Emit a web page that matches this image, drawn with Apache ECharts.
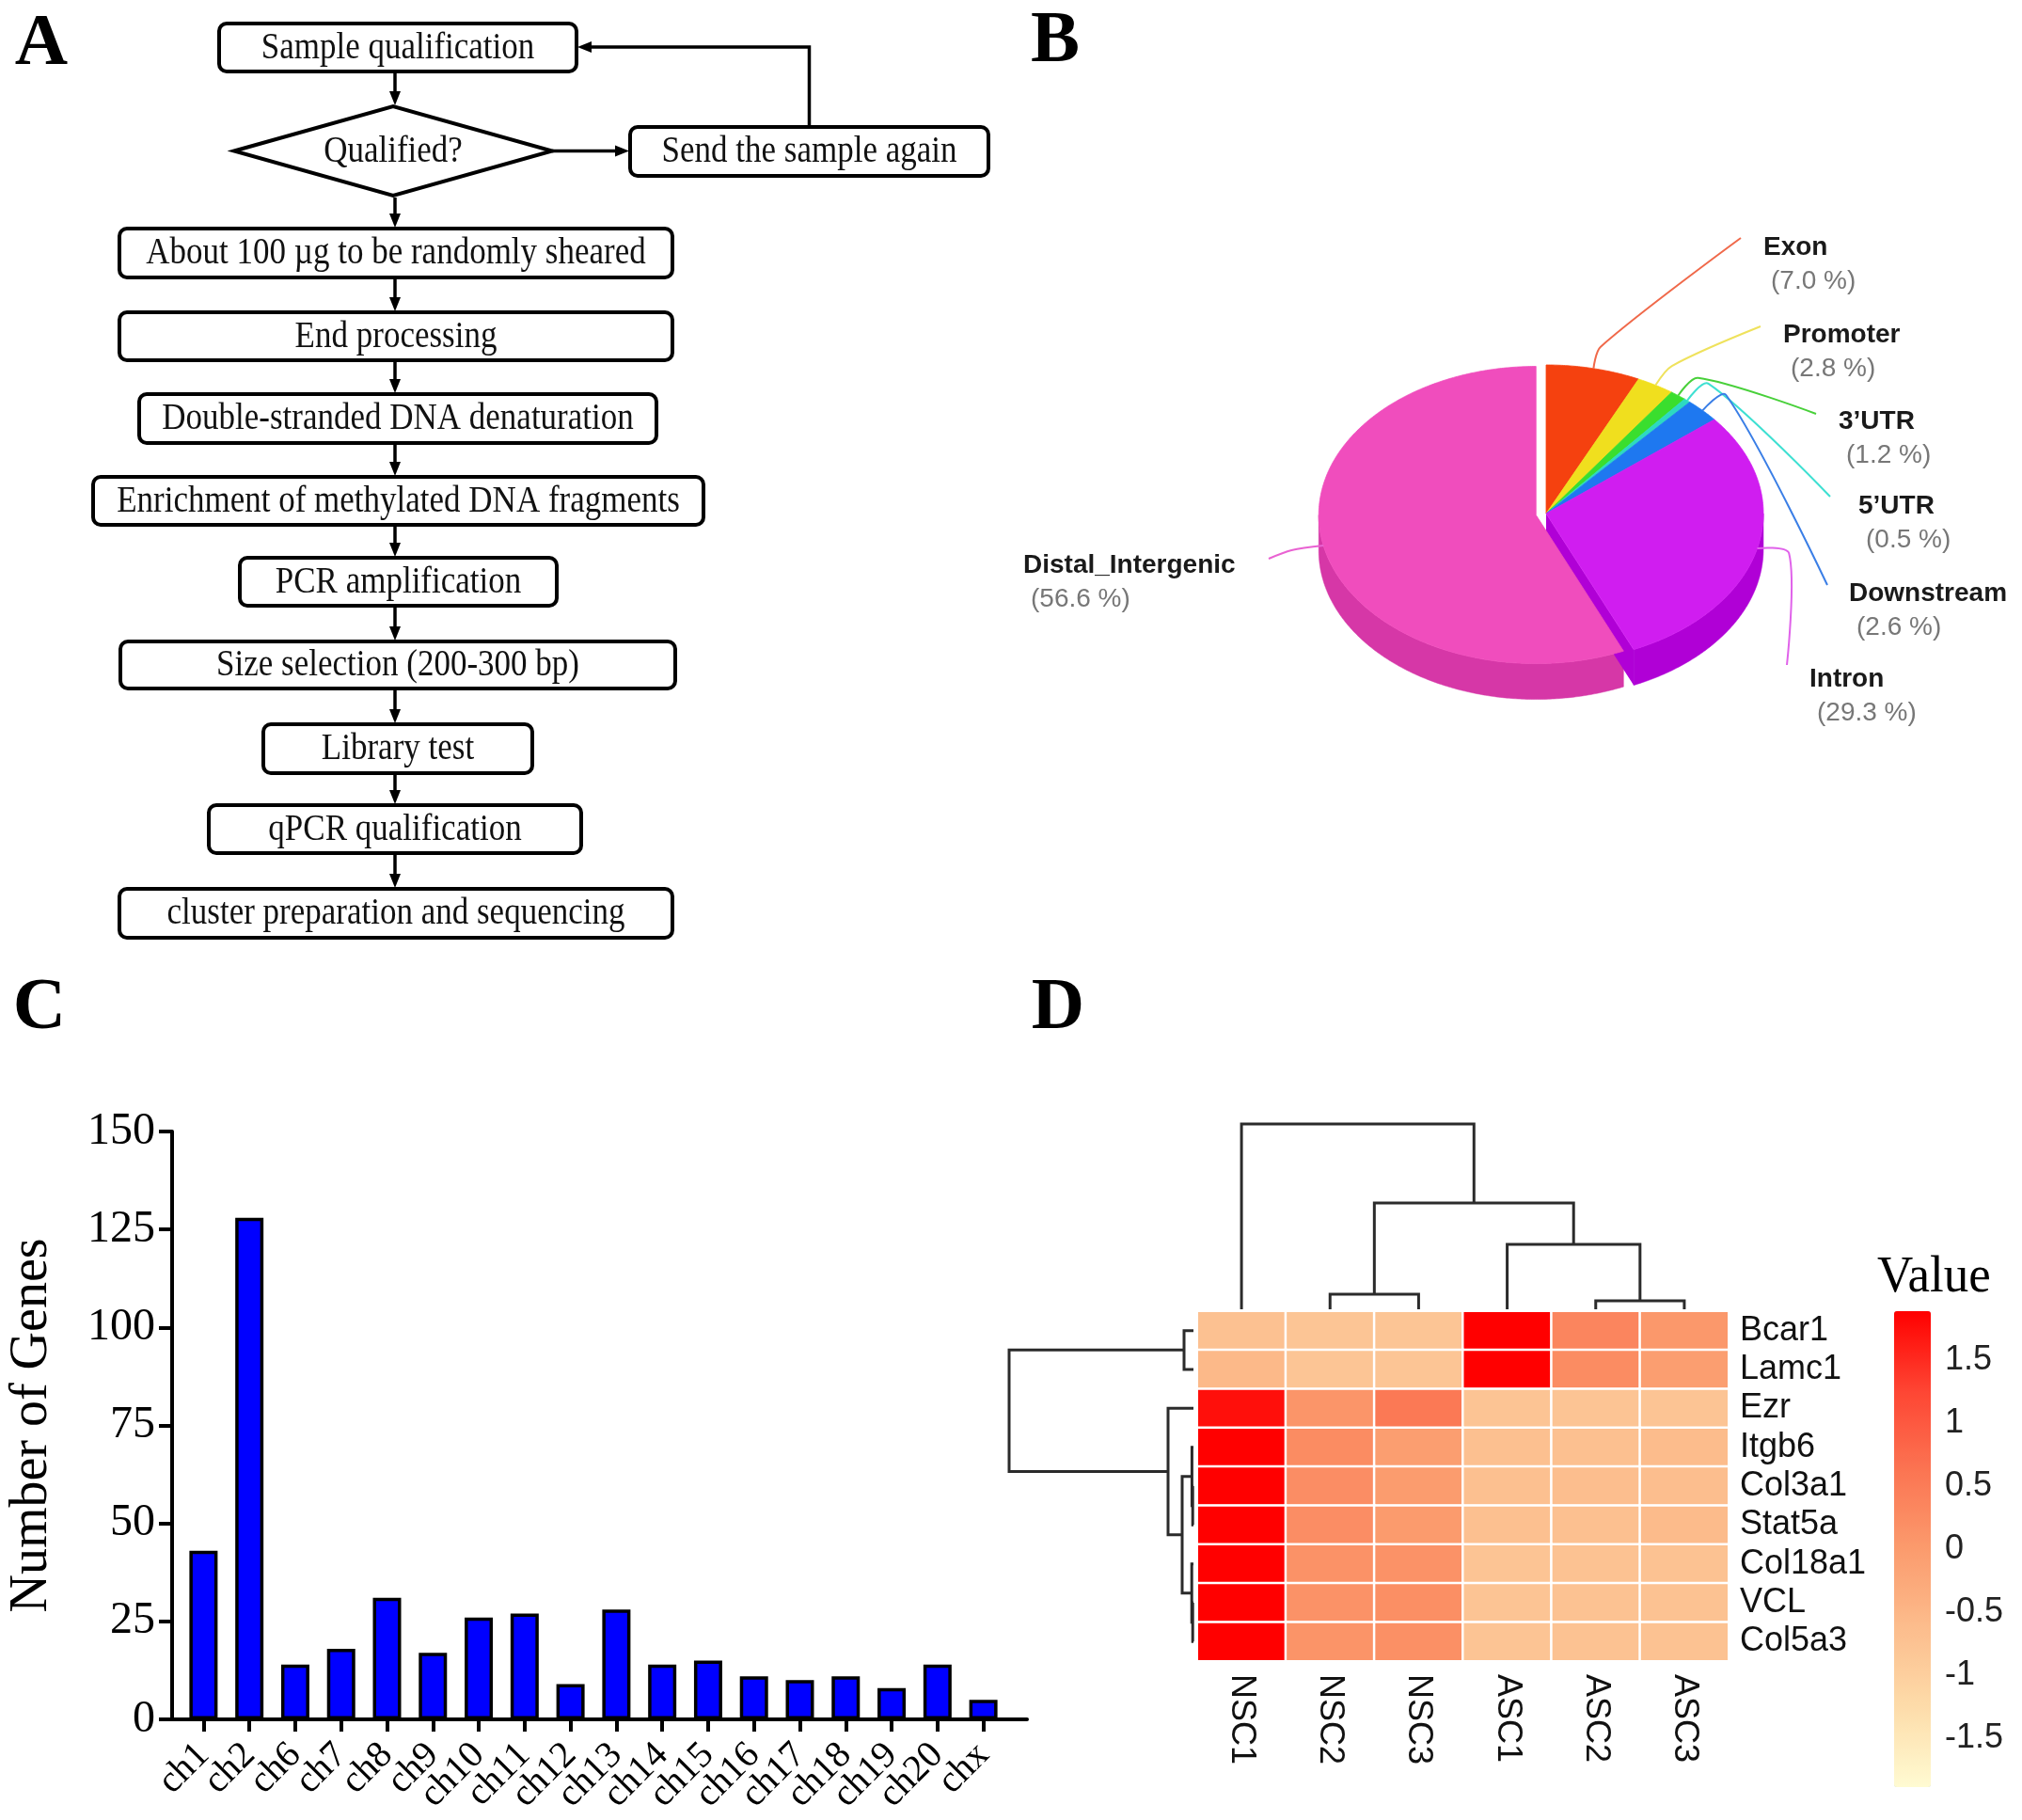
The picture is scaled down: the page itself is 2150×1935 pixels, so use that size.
<!DOCTYPE html>
<html><head><meta charset="utf-8">
<script src="https://cdn.jsdelivr.net/npm/echarts@6/dist/echarts.min.js"></script>
<style>html,body{margin:0;padding:0;background:#fff}#c{width:2150px;height:1935px}</style>
</head><body><div id="c"></div>
<script>
// ---------- Panel A: flowchart ----------
const flowSteps = ['Sample qualification','Qualified?','About 100 µg to be randomly sheared','End processing',
  'Double-stranded DNA denaturation','Enrichment of methylated DNA fragments','PCR amplification',
  'Size selection (200-300 bp)','Library test','qPCR qualification','cluster preparation and sequencing'];
const flowRetry = 'Send the sample again';
// ---------- Panel B: peak annotation ----------
const pieNames = ['Exon','Promoter','3’UTR','5’UTR','Downstream','Intron','Distal_Intergenic'];
const piePercents = [7.0, 2.8, 1.2, 0.5, 2.6, 29.3, 56.6];
// ---------- Panel C: genes per chromosome ----------
const chromosomes = ['ch1','ch2','ch6','ch7','ch8','ch9','ch10','ch11','ch12','ch13','ch14','ch15','ch16','ch17','ch18','ch19','ch20','chx'];
const geneCounts = [43, 128, 14, 18, 31, 17, 26, 27, 9, 28, 14, 15, 11, 10, 11, 8, 14, 5];
// ---------- Panel D: heatmap ----------
const samples = ['NSC1','NSC2','NSC3','ASC1','ASC2','ASC3'];
const genes = ['Bcar1','Lamc1','Ezr','Itgb6','Col3a1','Stat5a','Col18a1','VCL','Col5a3'];
const zBcar1   = [-0.72,-0.80,-0.80, 1.89, 0.35, 0.05];
const zLamc1   = [-0.55,-0.80,-0.80, 1.89, 0.25,-0.05];
const zEzr     = [ 1.75, 0.10, 0.55,-0.78,-0.78,-0.78];
const zItgb6   = [ 1.89, 0.25,-0.05,-0.70,-0.70,-0.62];
const zCol3a1  = [ 1.89, 0.22,-0.02,-0.70,-0.66,-0.66];
const zStat5a  = [ 1.89, 0.22, 0.00,-0.70,-0.70,-0.60];
const zCol18a1 = [ 1.89, 0.15, 0.15,-0.78,-0.74,-0.74];
const zVCL     = [ 1.89, 0.15, 0.20,-0.78,-0.74,-0.74];
const zCol5a3  = [ 1.89, 0.12, 0.18,-0.78,-0.74,-0.74];
const heatRows = [zBcar1,zLamc1,zEzr,zItgb6,zCol3a1,zStat5a,zCol18a1,zVCL,zCol5a3];
const colorbarTicks = [-1.5,-1,-0.5,0,0.5,1,1.5];
// hclust-style merges: negative = leaf (1-based, display order), positive = earlier merge
const colMerges = [[-2,-3,16],[-5,-6,9],[-4,2,69],[1,3,113],[-1,4,197]];
const rowMerges = [[-5,-6,0.8],[-8,-9,0.8],[-4,1,1.6],[-7,2,1.8],[-1,-2,10],[3,4,12],[-3,6,27],[5,7,196]];

// ---------- layout / style (not data) ----------
const flowBoxes = [[233,25,380,51],[249,113,338,95],[127,243,588,52],[127,332,588,51],[148,419,550,52],
  [99,507,649,51],[255,593,337,51],[128,682,590,50],[280,770,286,52],[222,856,396,51],[127,945,588,52]];
const retryBox = [670,135,381,52];
const FLOW_X = 420;
const PIE = {cx:1644, cy:546, rx:231, ry:158, depth:38};
const pieStyle = {
  colors:['#f5410f','#f0df1e','#3ade2e','#2dd9c2','#1e78f0','#d01df0','#f04dbd'],
  sides:['#c9320a','#c6b816','#2bb523','#22b09d','#1660c5','#b000d6','#d637a7'],
  lines:['#f0694a','#efe25c','#48d03a','#3ee0d2','#3a7ee6','#e062ea','#e962d2'],
  explode:[0,0,0,0,0,0,11]
};
const pieLabelLayout = [[1875,263,1851,253],[1896,356,1872,347],[1955,448,1931,440],[1976,538,1946,528],
  [1966,631,1943,622],[1924,722,1900,707],[1088,601,1349,594]];

// ---------- helpers ----------
const G = [];
const serif = 'Liberation Serif';
function txt(x,y,text,font,opt,sy){ G.push(Object.assign({type:'text',x:x,y:y,scaleY:sy||1,silent:true,style:Object.assign({text:text,font:font,fill:'#000',align:'center',verticalAlign:'middle'},opt||{})})); }
function arrowHead(tx,ty,dir){
  const L=15,W=6; let pts;
  if(dir==='down') pts=[[tx-W,ty-L],[tx+W,ty-L],[tx,ty]];
  else if(dir==='right') pts=[[tx-L,ty-W],[tx-L,ty+W],[tx,ty]];
  else pts=[[tx+L,ty-W],[tx+L,ty+W],[tx,ty]];
  G.push({type:'polygon',silent:true,shape:{points:pts},style:{fill:'#000'}});
}
function line(pts){ G.push({type:'polyline',silent:true,shape:{points:pts},style:{stroke:'#000',lineWidth:3.5,fill:null}}); }

// flowchart
flowSteps.forEach((s,i)=>{
  const b=flowBoxes[i];
  if(i===1){
    const cx=b[0]+b[2]/2, cy=b[1]+b[3]/2;
    G.push({type:'polygon',silent:true,shape:{points:[[b[0],cy],[cx,b[1]],[b[0]+b[2],cy],[cx,b[1]+b[3]]]},style:{fill:'#fff',stroke:'#000',lineWidth:4}});
  } else {
    G.push({type:'rect',silent:true,shape:{x:b[0],y:b[1],width:b[2],height:b[3],r:8},style:{fill:'#fff',stroke:'#000',lineWidth:4}});
  }
  txt(b[0]+b[2]/2, b[1]+b[3]/2+1, s, '35px '+serif, {fill:'#111'}, 1.14);
  if(i>0){
    const p=flowBoxes[i-1];
    line([[FLOW_X,p[1]+p[3]+2],[FLOW_X,b[1]-12]]);
    arrowHead(FLOW_X,b[1]-1,'down');
  }
});
G.push({type:'rect',silent:true,shape:{x:retryBox[0],y:retryBox[1],width:retryBox[2],height:retryBox[3],r:8},style:{fill:'#fff',stroke:'#000',lineWidth:4}});
txt(retryBox[0]+retryBox[2]/2, retryBox[1]+retryBox[3]/2+1, flowRetry, '35px '+serif, {fill:'#111'}, 1.14);
(function(){
  const d=flowBoxes[1], cy=d[1]+d[3]/2;
  line([[d[0]+d[2],cy],[retryBox[0]-12,cy]]); arrowHead(retryBox[0]-1,cy,'right');
  const s=flowBoxes[0], rx=retryBox[0]+retryBox[2]/2;
  line([[rx,retryBox[1]],[rx,50],[s[0]+s[2]+12,50]]); arrowHead(s[0]+s[2]+1,50,'left');
})();

// panel letters
txt(44,48,'A','bold 78px '+serif);
txt(1122,45,'B','bold 78px '+serif);
txt(42,1073,'C','bold 78px '+serif);
txt(1125,1073,'D','bold 78px '+serif);
// colorbar title
txt(1996,1358,'Value','53px '+serif,{align:'left'},1.05);

// dendrogram layout from merges
function treeLinks(merges){
  const pos=[], ht=[];
  const get=c=>c<0?[-c-1,0]:[pos[c-1],ht[c-1]];
  return merges.map((m,k)=>{const a=get(m[0]),b=get(m[1]);pos[k]=(a[0]+b[0])/2;ht[k]=m[2];return [a[0],b[0],m[2],a[1],b[1]];});
}
function dendroRender(orient){
  return function(params,api){
    const x1=api.value(0),x2=api.value(1),h=api.value(2),h1=api.value(3),h2=api.value(4);
    const raw = orient==='top' ? [[x1,h1],[x1,h],[x2,h],[x2,h2]] : [[h1,x1],[h,x1],[h,x2],[h2,x2]];
    return {type:'polyline',shape:{points:raw.map(p=>api.coord(p))},style:{stroke:'#2b2b2b',lineWidth:3,fill:null}};
  };
}

// pie (tilted, elliptical) via custom series
function pieRender(params, api){
  const i=params.dataIndex;
  const total=piePercents.reduce((s,v)=>s+v,0);
  let acc=0; for(let k=0;k<i;k++) acc+=piePercents[k];
  const a0=acc/total*2*Math.PI, a1=(acc+api.value(0))/total*2*Math.PI, mid=(a0+a1)/2;
  const ex=pieStyle.explode[i];
  const ox=ex*Math.sin(mid), oy=-ex*Math.cos(mid)*PIE.ry/PIE.rx;
  const P=(a,s,d)=>[PIE.cx+ox+s*PIE.rx*Math.sin(a), PIE.cy+oy-s*PIE.ry*Math.cos(a)+(d||0)];
  const arc=(f,t,d)=>{const n=Math.max(2,Math.ceil(Math.abs(t-f)/0.01));const pts=[];for(let j=0;j<=n;j++)pts.push(P(f+(t-f)*j/n,1,d));return pts;};
  const ch=[];
  const f0=Math.max(a0,Math.PI/2), f1=Math.min(a1,Math.PI*1.5);
  if(f1>f0) ch.push({type:'polygon',z2:1,shape:{points:arc(f0,f1,0).concat(arc(f1,f0,PIE.depth))},style:{fill:pieStyle.sides[i],stroke:pieStyle.sides[i],lineWidth:0.5}});
  const nextEx = pieStyle.explode[(i+1)%pieStyle.explode.length];
  if(Math.sin(a1)>0.05 && (ex>0||nextEx>0)){
    const c=P(0,0), e=P(a1,1);
    ch.push({type:'polygon',z2:2,shape:{points:[c,e,[e[0],e[1]+PIE.depth],[c[0],c[1]+PIE.depth]]},style:{fill:pieStyle.sides[i]}});
  }
  ch.push({type:'polygon',z2:5,shape:{points:[P(0,0)].concat(arc(a0,a1,0))},style:{fill:pieStyle.colors[i],stroke:pieStyle.colors[i],lineWidth:0.8}});
  const L=pieLabelLayout[i];
  ch.push({type:'polyline',z2:6,shape:{points:[P(mid,1),P(mid,1.15),[L[2],L[3]]],smooth:0.3},style:{stroke:pieStyle.lines[i],lineWidth:2,fill:null}});
  ch.push({type:'text',z2:7,style:{text:pieNames[i],x:L[0],y:L[1],font:'bold 28px "Liberation Sans"',fill:'#1a1a1a',align:'left',verticalAlign:'middle'}});
  ch.push({type:'text',z2:7,style:{text:'('+api.value(0).toFixed(1)+' %)',x:L[0]+8,y:L[1]+36,font:'28px "Liberation Sans"',fill:'#777',align:'left',verticalAlign:'middle'}});
  return {type:'group',children:ch};
}

const heatData=[];
heatRows.forEach((row,r)=>row.forEach((v,c)=>heatData.push([c,r,v])));

const axisBlack={color:'#000',width:4};
const option={
  animation:false,
  backgroundColor:'#fff',
  textStyle:{fontFamily:serif},
  graphic:{elements:G},
  grid:[
    {left:192,top:1203,width:878,height:625},
    {left:1273,top:1394,width:565,height:372},
    {left:1273,top:1195,width:565,height:197},
    {left:1073,top:1394,width:196,height:372},
    {left:2014,top:1394,width:39,height:506},
    {left:175,top:1203,width:917,height:625}
  ],
  xAxis:[
    {type:'category',gridIndex:0,data:chromosomes,z:5,axisLine:{show:true,onZero:false,lineStyle:axisBlack},
     axisTick:{show:true,inside:false,alignWithLabel:true,interval:0,length:13,lineStyle:{width:4,color:'#000'}},
     axisLabel:{rotate:45,margin:32,fontSize:40,fontFamily:serif,color:'#000',interval:0}},
    {type:'category',gridIndex:1,data:samples,position:'bottom',axisLine:{show:false},axisTick:{show:false},
     axisLabel:{rotate:-90,margin:14,fontSize:36,fontFamily:'Liberation Sans',color:'#111',interval:0}},
    {type:'value',gridIndex:2,min:-0.5,max:5.5,show:false},
    {type:'value',gridIndex:3,min:0,max:196,inverse:true,show:false},
    {type:'value',gridIndex:4,show:false},
    {type:'value',gridIndex:5,min:0,max:1,axisLine:{show:true,onZero:false,lineStyle:axisBlack},axisTick:{show:false},axisLabel:{show:false},splitLine:{show:false}}
  ],
  yAxis:[
    {type:'value',gridIndex:0,min:0,max:150,interval:25,offset:9,axisLine:{show:true,lineStyle:axisBlack},
     axisTick:{show:true,length:14,lineStyle:{width:4,color:'#000'}},splitLine:{show:false},
     axisLabel:{margin:18,fontSize:48,fontFamily:serif,color:'#000'},
     name:'Number of Genes',nameLocation:'middle',nameRotate:90,nameGap:121,
     nameTextStyle:{fontSize:56,fontFamily:serif,color:'#000'}},
    {type:'category',gridIndex:1,data:genes,inverse:true,position:'right',axisLine:{show:false},axisTick:{show:false},
     axisLabel:{margin:12,fontSize:36,fontFamily:'Liberation Sans',color:'#111',interval:0}},
    {type:'value',gridIndex:2,min:0,max:197,show:false},
    {type:'value',gridIndex:3,min:-0.5,max:8.5,inverse:true,show:false},
    {type:'value',gridIndex:4,min:-1.89,max:1.89,position:'right',axisLine:{show:false},axisTick:{show:false},splitLine:{show:false},
     axisLabel:{customValues:colorbarTicks,margin:15,fontSize:36,fontFamily:'Liberation Sans',color:'#222'}},
    {type:'value',gridIndex:5,min:0,max:1,show:false}
  ],
  visualMap:{type:'continuous',seriesIndex:1,min:-1.89,max:1.89,calculable:false,left:2014,top:1394,
    itemWidth:39,itemHeight:506,padding:0,text:null,showLabel:false,
    inRange:{color:['#fffbd2','#fddcaa','#fcbd8d','#fb9b6d','#fb7452','#fe4533','#ff0000']}},
  series:[
    {type:'bar',xAxisIndex:0,yAxisIndex:0,data:geneCounts,barWidth:30,z:2,
     itemStyle:{color:'#0000ff',borderColor:'#000',borderWidth:3.5}},
    {type:'heatmap',xAxisIndex:1,yAxisIndex:1,data:heatData,
     itemStyle:{borderColor:'#fff',borderWidth:2.5},emphasis:{disabled:true}},
    {type:'custom',xAxisIndex:2,yAxisIndex:2,data:treeLinks(colMerges),renderItem:dendroRender('top'),silent:true},
    {type:'custom',xAxisIndex:3,yAxisIndex:3,data:treeLinks(rowMerges),renderItem:dendroRender('left'),silent:true},
    {type:'custom',coordinateSystem:'none',data:piePercents.map((v,i)=>({name:pieNames[i],value:v})),renderItem:pieRender,silent:true}
  ]
};
const chart=echarts.init(document.getElementById('c'),null,{width:2150,height:1935});
chart.setOption(option);
</script></body></html>
